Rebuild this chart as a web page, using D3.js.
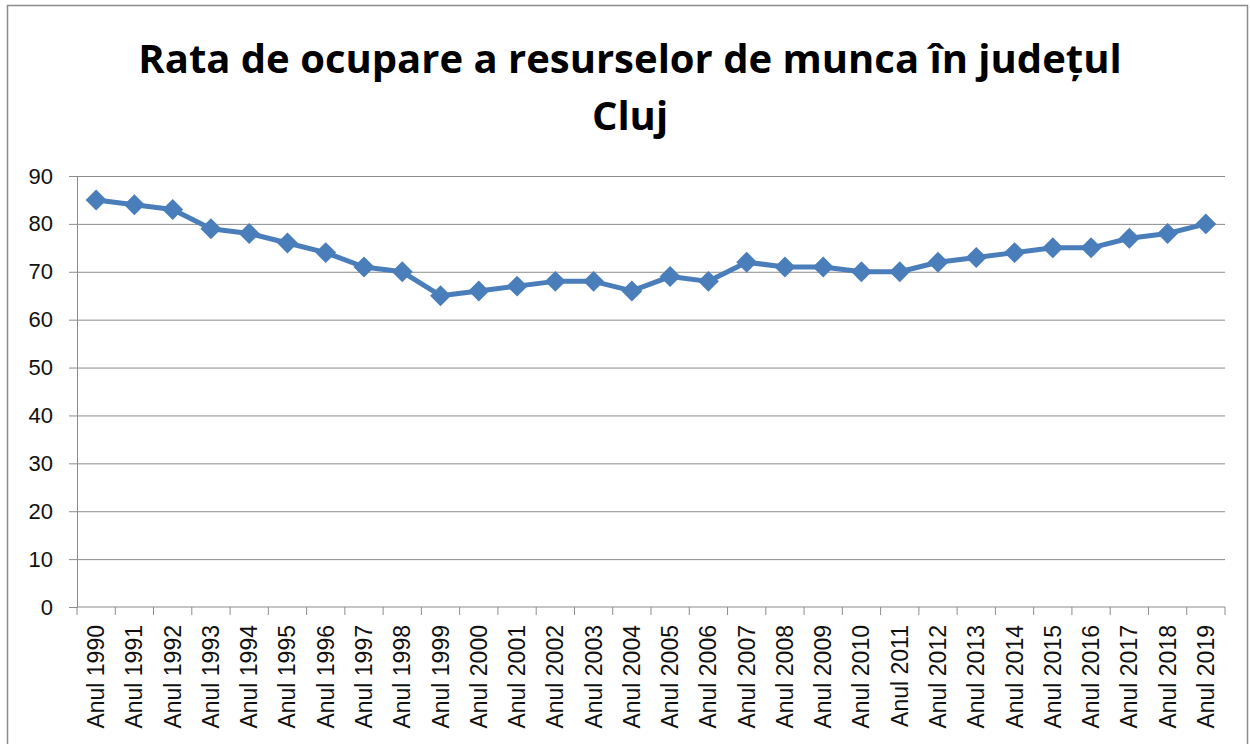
<!DOCTYPE html>
<html>
<head>
<meta charset="utf-8">
<script src="https://cdn.jsdelivr.net/npm/d3@7"></script>
<style>
  body { margin: 0; background: #fff; }
  svg { display: block; }
</style>
</head>
<body>
<div id="chart"></div>
<script>
// Data
const years = ["Anul 1990", "Anul 1991", "Anul 1992", "Anul 1993", "Anul 1994", "Anul 1995",
    "Anul 1996", "Anul 1997", "Anul 1998", "Anul 1999", "Anul 2000", "Anul 2001",
    "Anul 2002", "Anul 2003", "Anul 2004", "Anul 2005", "Anul 2006", "Anul 2007",
    "Anul 2008", "Anul 2009", "Anul 2010", "Anul 2011", "Anul 2012", "Anul 2013",
    "Anul 2014", "Anul 2015", "Anul 2016", "Anul 2017", "Anul 2018", "Anul 2019"];
const rates = [85, 84, 83, 79, 78, 76, 74, 71, 70, 65, 66, 67, 68, 68, 66, 69, 68, 72,
    71, 71, 70, 70, 72, 73, 74, 75, 75, 77, 78, 80];
const yTicks = [0, 10, 20, 30, 40, 50, 60, 70, 80, 90];
const titleLines = ["Rata de ocupare a resurselor de munca în județul", "Cluj"];

// Dimensions
const W = 1250, H = 744;
const margin = { top: 176, right: 25, bottom: 137, left: 77 };
const width = W - margin.left - margin.right;
const height = H - margin.top - margin.bottom;

const root = d3.select("#chart")
    .append("svg")
    .attr("width", W)
    .attr("height", H);

// Outer frame
root.append("rect")
    .attr("x", 7.5)
    .attr("y", 5.5)
    .attr("width", W - 10)
    .attr("height", H + 10)
    .attr("fill", "none")
    .attr("stroke", "#8c8c8c")
    .attr("stroke-width", 1.5);

// Title
root.append("text")
    .attr("x", 630)
    .attr("y", 73)
    .attr("text-anchor", "middle")
    .style("font-family", "'Open Sans', Lato, sans-serif")
    .style("font-weight", "bold")
    .style("font-size", "40px")
    .selectAll("tspan")
    .data(titleLines)
    .enter()
    .append("tspan")
    .attr("x", 630)
    .attr("dy", (d, i) => i === 0 ? 0 : 57)
    .text(d => d);

const svg = root.append("g")
    .attr("transform", `translate(${margin.left},${margin.top})`);

// Scales
const x = d3.scaleBand()
    .domain(years)
    .range([0, width]);

const y = d3.scaleLinear()
    .domain([0, 90])
    .range([height, 0]);

// Grid lines
svg.append("g")
    .attr("class", "grid")
    .call(d3.axisLeft(y)
        .tickValues(yTicks.filter(d => d > 0))
        .tickSize(-width)
        .tickFormat(""))
    .call(g => g.select(".domain").remove())
    .selectAll("line")
    .attr("stroke", "#8c8c8c")
    .attr("stroke-width", 1);

// Y axis
svg.append("g")
    .attr("class", "y-axis")
    .call(d3.axisLeft(y)
        .tickValues(yTicks)
        .tickSize(8)
        .tickPadding(16))
    .call(g => g.select(".domain").attr("stroke", "#8c8c8c"))
    .call(g => g.selectAll("line").attr("stroke", "#8c8c8c"))
    .selectAll("text")
    .style("font-family", "'Liberation Sans', Arial, sans-serif")
    .style("font-size", "22px")
    .attr("fill", "#111");

// X axis with ticks on band boundaries
const xAxis = svg.append("g")
    .attr("class", "x-axis")
    .attr("transform", `translate(0,${height})`);

xAxis.append("line")
    .attr("x1", 0)
    .attr("x2", width)
    .attr("stroke", "#8c8c8c");

xAxis.selectAll(".xtick")
    .data(years.concat(["end"]))
    .enter()
    .append("line")
    .attr("class", "xtick")
    .attr("x1", d => d === "end" ? width : x(d))
    .attr("x2", d => d === "end" ? width : x(d))
    .attr("y1", 0)
    .attr("y2", 8)
    .attr("stroke", "#8c8c8c");

xAxis.selectAll(".xlabel")
    .data(years)
    .enter()
    .append("text")
    .attr("class", "xlabel")
    .attr("transform", d => `translate(${x(d) + x.bandwidth() / 2 + 8},18) rotate(-90)`)
    .attr("text-anchor", "end")
    .style("font-family", "'Liberation Sans', Arial, sans-serif")
    .style("font-size", "23px")
    .attr("fill", "#111")
    .text(d => d);

// Line
const line = d3.line()
    .x((d, i) => x(years[i]) + x.bandwidth() / 2)
    .y(d => y(d));

svg.append("path")
    .datum(rates)
    .attr("fill", "none")
    .attr("stroke", "#4a7ebb")
    .attr("stroke-width", 5)
    .attr("stroke-linejoin", "round")
    .attr("d", line);

// Diamond markers
svg.selectAll(".marker")
    .data(rates)
    .enter()
    .append("path")
    .attr("class", "marker")
    .attr("d", d3.symbol().type(d3.symbolDiamond2).size(280))
    .attr("transform", (d, i) => `translate(${x(years[i]) + x.bandwidth() / 2},${y(d)})`)
    .attr("fill", "#4a7ebb");
</script>
</body>
</html>
